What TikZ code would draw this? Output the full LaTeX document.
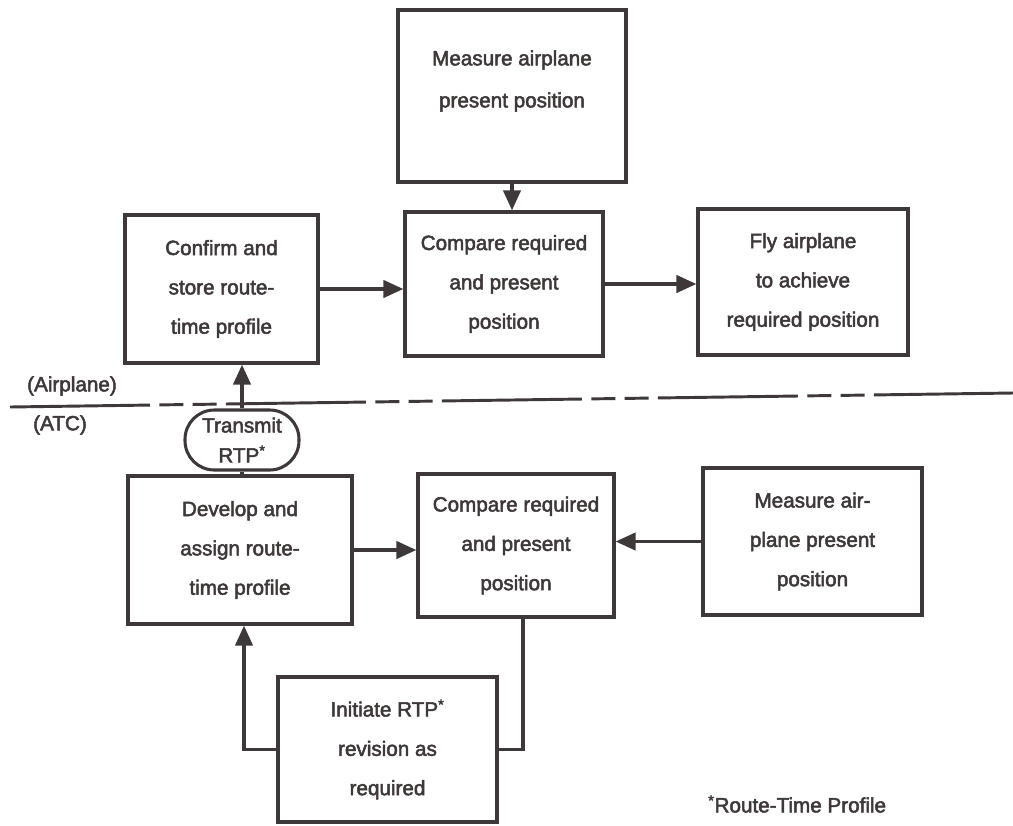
\documentclass[tikz,border=0pt]{standalone}
\usepackage{fontspec}
\setmainfont[FakeBold=2.4]{Liberation Sans}
\usetikzlibrary{arrows.meta,calc}
\definecolor{ink}{HTML}{3F3838}
\def\px{0.75pt}
\tikzset{
  box/.style={draw=ink, line width=2.5pt, align=center, text=ink, inner sep=0pt,
    font=\fontsize{15.5}{29.5}\selectfont},
  pill/.style={draw=ink, line width=2.3pt, rounded corners=22pt, align=center, text=ink,
    inner sep=0pt, font=\fontsize{15.5}{22.5}\selectfont},
  lab/.style={text=ink, font=\fontsize{15.5}{18}\selectfont, inner sep=0pt},
  flow/.style={draw=ink, line width=2.5pt, -{Triangle[length=15pt,width=13pt]}},
  link/.style={draw=ink, line width=2.5pt},
}
\begin{document}
\begin{tikzpicture}[x=0.75pt,y=-0.75pt]
\useasboundingbox (0,0) rectangle (1013,825);
\fill[white] (0,0) rectangle (1013,825);

% airborne side
\node[box, minimum width=228*\px, minimum height=172*\px] (mtop) at (512,96) {};
\node[text=ink, align=center, font=\fontsize{15.5}{31.5}\selectfont] (mtoptext) at (512,81)
  {Measure airplane\\present position};
\node[box, minimum width=193*\px, minimum height=148*\px] (conf) at (221.5,289)
  {Confirm and\\store route-\\time profile};
\node[box, minimum width=198*\px, minimum height=144*\px] (cmpT) at (504,284)
  {Compare required\\and present\\position};
\node[box, minimum width=210*\px, minimum height=146*\px] (fly) at (803,282)
  {Fly airplane\\to achieve\\required position};

% boundary between airplane and ground: long dash, two short dashes
\coordinate (bl) at (10,407);
\coordinate (br) at (1013,393);
\draw[draw=ink, line width=2.2pt,
  dash pattern=on 105pt off 7pt on 18pt off 7pt on 18pt off 7pt] (bl) -- (br);
\node[lab] (air) at (72,386) {(Airplane)};
\node[lab] (atc) at (60,425) {(ATC)};

% ground side
\node[pill, minimum width=114*\px, minimum height=60*\px] (tx) at (242,440)
  {Transmit\\RTP\textsuperscript{*}};
\node[box, minimum width=224*\px, minimum height=148*\px] (dev) at (240,550)
  {Develop and\\assign route-\\time profile};
\node[box, minimum width=196*\px, minimum height=143*\px] (cmpB) at (516,545.5)
  {Compare required\\and present\\position};
\node[box, minimum width=219*\px, minimum height=147*\px] (mB) at (812.5,541.5)
  {Measure air-\\plane present\\position};
\node[box, minimum width=219*\px, minimum height=145*\px] (init) at (387.5,749.5)
  {Initiate RTP\textsuperscript{*}\\revision as\\required};

\node[lab, anchor=west] (note) at (708,804) {\textsuperscript{*}Route-Time Profile};

% connectors
\draw[flow] (mtop.south) -- (mtop.south |- cmpT.north);
\draw[flow] (conf.east) -- (conf.east -| cmpT.west);
\draw[flow] (cmpT.east) -- (cmpT.east -| fly.west);
\draw[flow] (tx.north) -- (tx.north |- conf.south);
\draw[link] (tx.south) -- (tx.south |- dev.north);
\draw[flow] (dev.east) -- (dev.east -| cmpB.west);
\draw[flow] (mB.west) -- (mB.west -| cmpB.east);
\draw[link] ([xshift=7*\px]cmpB.south) |- (init.east);
\draw[flow] (init.west) -| ([xshift=4*\px]dev.south);
\end{tikzpicture}
\end{document}
